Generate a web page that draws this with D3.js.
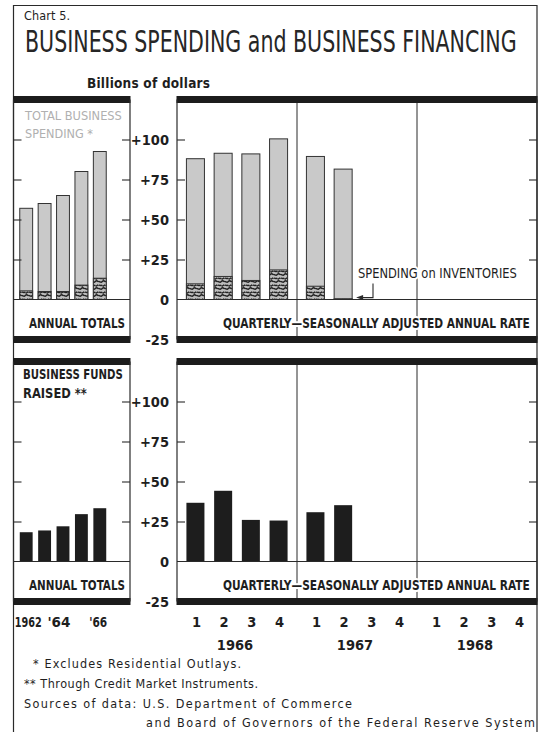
<!DOCTYPE html>
<html>
<head>
<meta charset="utf-8">
<script src="https://cdn.jsdelivr.net/npm/d3@7"></script>
<style>
  html, body { margin: 0; padding: 0; background: #ffffff; }
  svg { display: block; }
  text { font-family: "DejaVu Sans Condensed", "Liberation Sans Narrow", "Roboto Condensed", "Open Sans", Roboto, sans-serif; font-stretch: condensed; }
</style>
</head>
<body>
<div id="chart"></div>
<script>
// ---- Data (billions of dollars) ----
const annualYears = [1962, 1963, 1964, 1965, 1966];
const annualSpending = [57, 60, 65, 80, 92.5];
const annualInventories = [5.4, 5, 5, 9, 13.3];
const annualFunds = [18.3, 19.4, 22, 29.6, 33.3];
const annualTickLabels = ["1962", "'64", "'66"];
const annualTickYears = [1962, 1964, 1966];

const quarterYears = [1966, 1967, 1968];
const quarterNumbers = [1, 2, 3, 4];
const quarterlyPeriods = [[1966, 1], [1966, 2], [1966, 3], [1966, 4], [1967, 1], [1967, 2]];
const quarterlySpending = [88, 91.4, 91, 100.4, 89.4, 81.5];
const quarterlyInventories = [9.8, 14.4, 11.9, 18.5, 8.3, 0.5];
const quarterlyFunds = [36.7, 44.2, 26, 25.6, 30.8, 35.2];

const tickValues = [100, 75, 50, 25, 0, -25];
const tickLabels = ["+100", "+75", "+50", "+25", "0", "-25"];
const yDomain = [-25, 125];

// ---- Layout ----
const W = 542, H = 732;
const leftX = [13.5, 130], rightX = [177, 537];
const INK = "#1e1e1e";

const svg = d3.select("#chart").append("svg").attr("width", W).attr("height", H);
const defs = svg.append("defs");

// worm-like hatch used for the inventory portion of the spending bars
const pat = defs.append("pattern").attr("id", "inv").attr("width", 7).attr("height", 7)
  .attr("patternUnits", "userSpaceOnUse");
pat.append("rect").attr("width", 7).attr("height", 7).attr("fill", "#bdbdbd");
pat.append("path").attr("d", "M0,1.8 C1.3,0.3 2.6,3.3 4,1.8 S6.2,0.4 7,1.8")
  .attr("fill", "none").attr("stroke", "#222").attr("stroke-width", 1.4);
pat.append("path").attr("d", "M0.5,5.8 C1.5,3.8 3,6.8 4.3,4.8 M4.8,6.6 C5.6,5.2 6.4,6.2 7,4.6")
  .attr("fill", "none").attr("stroke", "#222").attr("stroke-width", 1.3);

// Scales
const yTop = d3.scaleLinear().domain(yDomain).range([339.5, 99.5]);
const yBot = d3.scaleLinear().domain(yDomain).range([601.5, 361.5]);

const xAnnual = d3.scaleBand().domain(annualYears).range([17, 109])
  .paddingInner(0.3).paddingOuter(0.15);
const xYear = d3.scaleBand().domain(quarterYears).range(rightX).padding(0);
const xQuarter = d3.scaleBand().domain(quarterNumbers).range([0, xYear.bandwidth()])
  .paddingInner(0.35).paddingOuter(0.34);
const qx = (yr, q) => xYear(yr) + xQuarter(q);

// Squeeze a start-anchored text horizontally so it spans `width` pixels
function fit(sel, x, y, width) {
  sel.attr("x", 0).attr("y", 0);
  const w = sel.node().getComputedTextLength();
  sel.attr("transform", `translate(${x},${y}) scale(${width / w},1)`);
  return sel;
}
function halo(sel) {
  return sel.attr("stroke", "#ffffff").attr("stroke-width", 4).attr("paint-order", "stroke")
    .attr("stroke-linejoin", "round");
}

// Outer frame
svg.append("path").attr("d", `M13.5,${H} V5.5 H537 V${H}`)
  .attr("fill", "none").attr("stroke", "#2a2a2a").attr("stroke-width", 1.2);

function panelFrame(g, y, x0, x1) {
  // thick bars at the ends of the value range
  [yDomain[1], yDomain[0]].forEach(v => {
    g.append("rect").attr("x", x0 - 0.5).attr("y", y(v) - 3.5)
      .attr("width", x1 - x0 + 1).attr("height", 7).attr("fill", "#1c1c1c");
  });
  // side borders
  [x0, x1].forEach(x => {
    g.append("line").attr("x1", x).attr("x2", x).attr("y1", y(yDomain[1])).attr("y2", y(yDomain[0]))
      .attr("stroke", "#2a2a2a").attr("stroke-width", 1.2);
  });
  // zero line
  g.append("line").attr("x1", x0).attr("x2", x1).attr("y1", y(0)).attr("y2", y(0))
    .attr("stroke", "#2a2a2a").attr("stroke-width", 1);
  // inner ticks on both sides
  const tv = tickValues.filter(v => v > 0);
  const axL = d3.axisRight(y).tickValues(tv).tickSize(8).tickFormat("");
  const axR = d3.axisLeft(y).tickValues(tv).tickSize(8).tickFormat("");
  g.append("g").attr("transform", `translate(${x0},0)`).call(axL).call(a => a.select(".domain").remove())
    .selectAll("line").attr("stroke", "#2a2a2a").attr("stroke-width", 1.1);
  g.append("g").attr("transform", `translate(${x1},0)`).call(axR).call(a => a.select(".domain").remove())
    .selectAll("line").attr("stroke", "#2a2a2a").attr("stroke-width", 1.1);
}

function yearDividers(g, y) {
  quarterYears.slice(1).forEach(yr => {
    g.append("line").attr("x1", xYear(yr)).attr("x2", xYear(yr))
      .attr("y1", y(yDomain[1])).attr("y2", y(yDomain[0]))
      .attr("stroke", "#2a2a2a").attr("stroke-width", 1);
  });
}

function valueAxis(g, y) {
  const ax = d3.axisLeft(y).tickValues(tickValues).tickSize(0)
    .tickFormat((d, i) => tickLabels[i]);
  const a = g.append("g").attr("transform", "translate(169,0)").call(ax);
  a.select(".domain").remove();
  a.attr("font-family", null).attr("font-size", null);
  a.selectAll("text").attr("x", 0).attr("dy", "0.36em")
    .style("font-size", "14.5px").style("font-weight", 600).style("fill", INK);
}

// ---- Header ----
svg.append("text").text("Chart 5.").style("font-size", "12.5px").style("fill", INK)
  .attr("x", 24).attr("y", 20).attr("textLength", 46).attr("lengthAdjust", "spacing");
fit(svg.append("text").text("BUSINESS SPENDING and BUSINESS FINANCING")
  .style("font-size", "31px").style("font-weight", 500).style("fill", "#262626"), 25, 52, 492);
svg.append("text").text("Billions of dollars").style("font-size", "13.5px").style("font-weight", 600)
  .style("fill", INK).attr("x", 87).attr("y", 88).attr("textLength", 123).attr("lengthAdjust", "spacing");

// ---- Top panels: business spending ----
const spendG = svg.append("g");
yearDividers(spendG, yTop);

// annual totals
spendG.selectAll("rect.ann").data(annualYears).join("rect").attr("class", "ann")
  .attr("x", d => xAnnual(d)).attr("width", xAnnual.bandwidth())
  .attr("y", (d, i) => yTop(annualSpending[i])).attr("height", (d, i) => yTop(0) - yTop(annualSpending[i]))
  .attr("fill", "#c9c9c9").attr("stroke", "#333").attr("stroke-width", 1);
spendG.selectAll("rect.anninv").data(annualYears).join("rect").attr("class", "anninv")
  .attr("x", d => xAnnual(d)).attr("width", xAnnual.bandwidth())
  .attr("y", (d, i) => yTop(annualInventories[i])).attr("height", (d, i) => yTop(0) - yTop(annualInventories[i]))
  .attr("fill", "url(#inv)").attr("stroke", "#333").attr("stroke-width", 1);

// quarterly
spendG.selectAll("rect.q").data(quarterlyPeriods).join("rect").attr("class", "q")
  .attr("x", d => qx(d[0], d[1])).attr("width", xQuarter.bandwidth())
  .attr("y", (d, i) => yTop(quarterlySpending[i])).attr("height", (d, i) => yTop(0) - yTop(quarterlySpending[i]))
  .attr("fill", "#c9c9c9").attr("stroke", "#333").attr("stroke-width", 1);
spendG.selectAll("rect.qinv").data(quarterlyPeriods).join("rect").attr("class", "qinv")
  .attr("x", d => qx(d[0], d[1])).attr("width", xQuarter.bandwidth())
  .attr("y", (d, i) => yTop(quarterlyInventories[i])).attr("height", (d, i) => yTop(0) - yTop(quarterlyInventories[i]))
  .attr("fill", "url(#inv)").attr("stroke", "#333").attr("stroke-width", 1);

panelFrame(spendG, yTop, leftX[0], leftX[1]);
panelFrame(spendG, yTop, rightX[0], rightX[1]);
valueAxis(spendG, yTop);

// panel labels
fit(spendG.append("text").text("TOTAL BUSINESS").style("font-size", "13px").style("fill", "#b0b0b0"), 25, 120, 97);
fit(spendG.append("text").text("SPENDING *").style("font-size", "13px").style("fill", "#b0b0b0"), 25, 138, 68);
fit(halo(spendG.append("text").text("ANNUAL TOTALS").style("font-size", "14px").style("font-weight", 700)
  .style("fill", INK)), 29, 328, 96);
fit(halo(spendG.append("text").text("QUARTERLY\u2014SEASONALLY ADJUSTED ANNUAL RATE")
  .style("font-size", "14px").style("font-weight", 600).style("fill", INK)), 223, 328, 307);

// inventories callout
fit(halo(spendG.append("text").text("SPENDING on INVENTORIES").style("font-size", "13.5px")
  .style("font-weight", 500).style("fill", INK)), 358, 278, 159);
const arrowX = 373, arrowY = yTop(1.2);
const barEnd = qx(1967, 2) + xQuarter.bandwidth();
spendG.append("path").attr("d", `M${arrowX},${yTop(10)} V${arrowY} H${barEnd + 9}`)
  .attr("fill", "none").attr("stroke", "#2a2a2a").attr("stroke-width", 1.1);
spendG.append("path").attr("d", `M${barEnd + 4},${arrowY} l7,-2.5 v5 z`).attr("fill", "#2a2a2a");

// ---- Bottom panels: business funds raised ----
const fundsG = svg.append("g");
yearDividers(fundsG, yBot);
fundsG.selectAll("rect.ann").data(annualYears).join("rect").attr("class", "ann")
  .attr("x", d => xAnnual(d)).attr("width", xAnnual.bandwidth())
  .attr("y", (d, i) => yBot(annualFunds[i])).attr("height", (d, i) => yBot(0) - yBot(annualFunds[i]))
  .attr("fill", "#1d1d1d");
fundsG.selectAll("rect.q").data(quarterlyPeriods).join("rect").attr("class", "q")
  .attr("x", d => qx(d[0], d[1])).attr("width", xQuarter.bandwidth())
  .attr("y", (d, i) => yBot(quarterlyFunds[i])).attr("height", (d, i) => yBot(0) - yBot(quarterlyFunds[i]))
  .attr("fill", "#1d1d1d");
panelFrame(fundsG, yBot, leftX[0], leftX[1]);
panelFrame(fundsG, yBot, rightX[0], rightX[1]);
valueAxis(fundsG, yBot);

fit(fundsG.append("text").text("BUSINESS FUNDS").style("font-size", "14px").style("font-weight", 700)
  .style("fill", INK), 23, 379, 100);
fit(fundsG.append("text").text("RAISED **").style("font-size", "14px").style("font-weight", 700)
  .style("fill", INK), 23, 398, 64);
fit(halo(fundsG.append("text").text("ANNUAL TOTALS").style("font-size", "14px").style("font-weight", 700)
  .style("fill", INK)), 29, 590, 96);
fit(halo(fundsG.append("text").text("QUARTERLY\u2014SEASONALLY ADJUSTED ANNUAL RATE")
  .style("font-size", "14px").style("font-weight", 600).style("fill", INK)), 223, 590, 307);

// ---- Time labels ----
const timeG = svg.append("g").style("font-size", "14.5px").style("font-weight", 600).style("fill", INK);
// annual year labels: first starts just left of its bar, the others end at their bar's right edge
annualTickYears.forEach((yr, i) => {
  const t = timeG.append("text").text(annualTickLabels[i]);
  const w = i === 0 ? 27 : (i === 1 ? 23 : 18);
  const x0 = i === 0 ? xAnnual(yr) - 5 : xAnnual(yr) + xAnnual.bandwidth() + 1 - w;
  fit(t, x0, 627, w);
});
quarterYears.forEach(yr => {
  timeG.append("g").selectAll("text").data(quarterNumbers).join("text")
    .attr("x", q => xYear(yr) + xQuarter(q) + xQuarter.bandwidth() / 2 + 1)
    .attr("y", 627).attr("text-anchor", "middle").text(q => q);
});
timeG.selectAll("text.yr").data(quarterYears).join("text").attr("class", "yr")
  .attr("x", d => xYear(d) + xYear.bandwidth() / 2 - 2).attr("y", 650)
  .attr("text-anchor", "middle").text(d => d);

// ---- Footnotes ----
const notes = svg.append("g").style("font-size", "12.5px").style("font-weight", 500).style("fill", INK);
notes.append("text").attr("x", 33).attr("y", 668).text("* Excludes Residential Outlays.")
  .attr("textLength", 208).attr("lengthAdjust", "spacing");
notes.append("text").attr("x", 24).attr("y", 688).text("** Through Credit Market Instruments.")
  .attr("textLength", 234).attr("lengthAdjust", "spacing");
notes.append("text").attr("x", 24).attr("y", 708).text("Sources of data:  U.S. Department of Commerce")
  .attr("textLength", 328).attr("lengthAdjust", "spacing");
notes.append("text").attr("x", 146).attr("y", 727).text("and Board of Governors of the Federal Reserve System")
  .attr("textLength", 389).attr("lengthAdjust", "spacing");
</script>
</body>
</html>
